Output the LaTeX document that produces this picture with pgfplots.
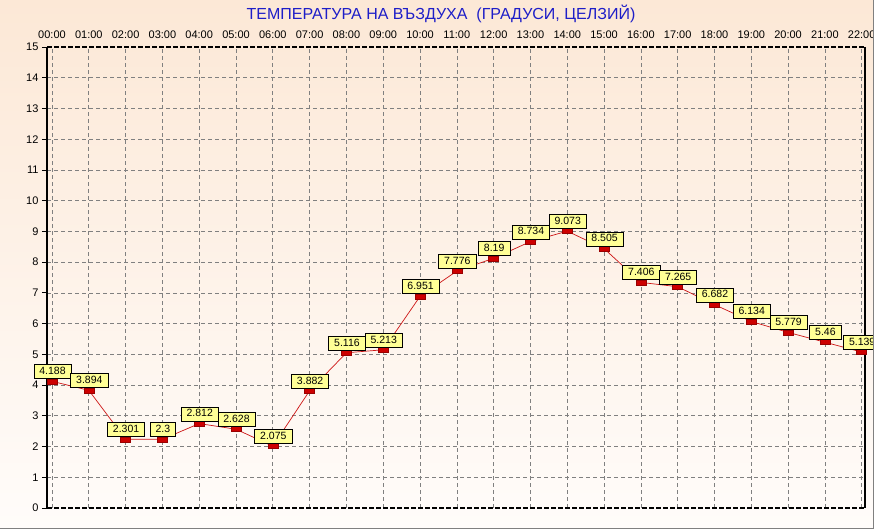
\documentclass[border=0pt]{standalone}
\usepackage{pgfplots}
\pgfplotsset{compat=1.18}
\usepackage{fontspec}
\setmainfont{Liberation Sans}
\definecolor{bgtop}{RGB}{252,232,214}
\definecolor{bgbot}{RGB}{255,252,250}
\definecolor{titleblue}{RGB}{30,30,200}
\definecolor{boxyellow}{RGB}{255,255,150}
\definecolor{markred}{RGB}{205,0,0}
\definecolor{linered}{RGB}{205,20,20}
\definecolor{gridgray}{RGB}{128,128,128}
\begin{document}
\begin{tikzpicture}
\path[use as bounding box] (0pt,0pt) rectangle (874pt,529pt);
\shade[top color=bgtop, bottom color=bgbot] (0pt,0pt) rectangle (874pt,529pt);
\node[font=\fontsize{16}{16}\selectfont, text=titleblue] at (441pt,515pt) {ТЕМПЕРАТУРА НА ВЪЗДУХА\ \ (ГРАДУСИ, ЦЕЛЗИЙ)};
\begin{axis}[
  at={(47pt,21pt)}, anchor=south west,
  scale only axis, width=818pt, height=461pt,
  xmin=-0.136, xmax=22.09, ymin=0, ymax=15,
  xtick={0,...,22},
  xticklabels={00:00,01:00,02:00,03:00,04:00,05:00,06:00,07:00,08:00,09:00,10:00,11:00,12:00,13:00,14:00,15:00,16:00,17:00,18:00,19:00,20:00,21:00,22:00},
  xticklabel pos=upper,
  xtick style={draw=none},
  ytick={0,...,15},
  ytick pos=left,
  tick align=outside,
  major tick length=5pt,
  ytick style={black, line width=0.8pt},
  ticklabel style={font=\fontsize{11}{11}\selectfont, text=black},
  /pgf/number format/assume math mode=true,
  axis line style={draw=none},
  grid=major,
  major grid style={gridgray, line width=0.7pt, dash pattern=on 4pt off 3pt},
  clip=false,
  point meta=explicit symbolic,
  nodes near coords,
  every node near coord/.append style={anchor=south, yshift=2.3pt, xshift=0.5pt, fill=boxyellow, draw=black, line width=0.7pt, inner xsep=5.5pt, inner ysep=2.5pt, text height=7.5pt, text depth=1.5pt, font=\fontsize{10.5}{10.5}\selectfont, text=black},
]
\addplot[yshift=-2pt, linered, line width=0.7pt, mark=square*, mark size=2.5pt, mark options={xscale=2, fill=markred, draw=black!40!red, line width=0.5pt}] coordinates {
(0,4.188) [4.188]
(1,3.894) [3.894]
(2,2.301) [2.301]
(3,2.3) [2.3]
(4,2.812) [2.812]
(5,2.628) [2.628]
(6,2.075) [2.075]
(7,3.882) [3.882]
(8,5.116) [5.116]
(9,5.213) [5.213]
(10,6.951) [6.951]
(11,7.776) [7.776]
(12,8.19) [8.19]
(13,8.734) [8.734]
(14,9.073) [9.073]
(15,8.505) [8.505]
(16,7.406) [7.406]
(17,7.265) [7.265]
(18,6.682) [6.682]
(19,6.134) [6.134]
(20,5.779) [5.779]
(21,5.46) [5.46]
(22,5.139) [5.139]
};
\draw[black, line width=2.8pt] (rel axis cs:0,0) -- (rel axis cs:0,1);
\draw[black, line width=1.3pt] (rel axis cs:1,0) -- (rel axis cs:1,1);
\draw[black, line width=1.4pt, dash pattern=on 5pt off 2pt] (rel axis cs:0,1) -- (rel axis cs:1,1);
\draw[black, line width=1.4pt, dash pattern=on 5pt off 2pt] (rel axis cs:0,0) -- (rel axis cs:1,0);
\end{axis}
\draw[gray, line width=1.2pt] (0pt,0.6pt) -- (873.4pt,0.6pt) -- (873.4pt,529pt);
\end{tikzpicture}
\end{document}
